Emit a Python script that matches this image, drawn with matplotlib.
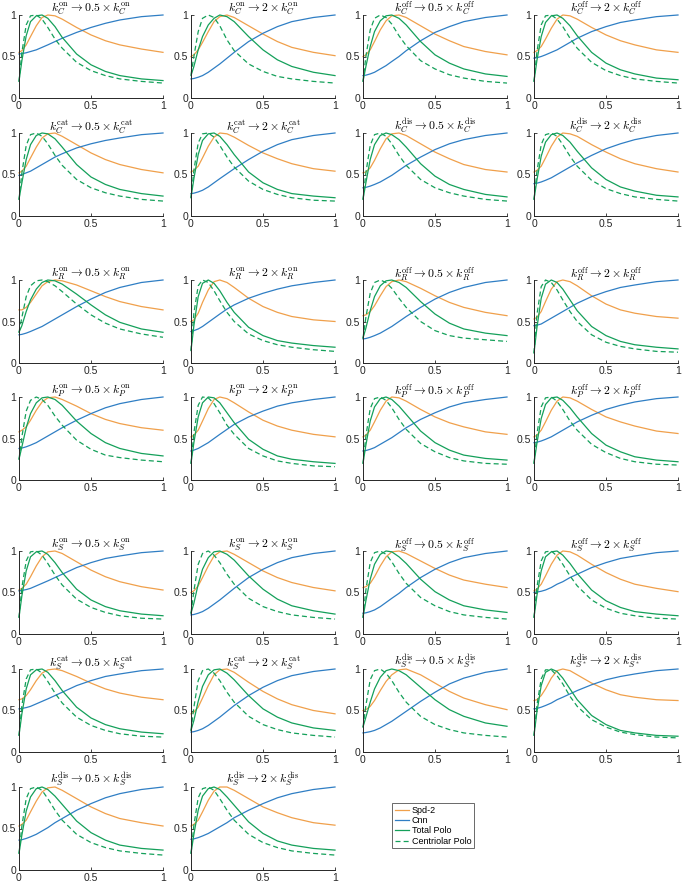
import numpy as np
import matplotlib
matplotlib.use("Agg")
import matplotlib.pyplot as plt

plt.rcParams['font.family'] = ['Liberation Sans', 'DejaVu Sans']
plt.rcParams['mathtext.fontset'] = 'cm'

# shared time axis (normalised)
x = [0, 0.02, 0.05, 0.08, 0.12, 0.16, 0.2, 0.25, 0.3, 0.4, 0.5, 0.6, 0.7, 0.85, 1.0]

titles = [
    r"$k_C^{\rm on} \rightarrow 0.5 \times k_C^{\rm on}$",
    r"$k_C^{\rm on} \rightarrow 2 \times k_C^{\rm on}$",
    r"$k_C^{\rm off} \rightarrow 0.5 \times k_C^{\rm off}$",
    r"$k_C^{\rm off} \rightarrow 2 \times k_C^{\rm off}$",
    r"$k_C^{\rm cat} \rightarrow 0.5 \times k_C^{\rm cat}$",
    r"$k_C^{\rm cat} \rightarrow 2 \times k_C^{\rm cat}$",
    r"$k_C^{\rm dis} \rightarrow 0.5 \times k_C^{\rm dis}$",
    r"$k_C^{\rm dis} \rightarrow 2 \times k_C^{\rm dis}$",
    r"$k_R^{\rm on} \rightarrow 0.5 \times k_R^{\rm on}$",
    r"$k_R^{\rm on} \rightarrow 2 \times k_R^{\rm on}$",
    r"$k_R^{\rm off} \rightarrow 0.5 \times k_R^{\rm off}$",
    r"$k_R^{\rm off} \rightarrow 2 \times k_R^{\rm off}$",
    r"$k_P^{\rm on} \rightarrow 0.5 \times k_P^{\rm on}$",
    r"$k_P^{\rm on} \rightarrow 2 \times k_P^{\rm on}$",
    r"$k_P^{\rm off} \rightarrow 0.5 \times k_P^{\rm off}$",
    r"$k_P^{\rm off} \rightarrow 2 \times k_P^{\rm off}$",
    r"$k_S^{\rm on} \rightarrow 0.5 \times k_S^{\rm on}$",
    r"$k_S^{\rm on} \rightarrow 2 \times k_S^{\rm on}$",
    r"$k_S^{\rm off} \rightarrow 0.5 \times k_S^{\rm off}$",
    r"$k_S^{\rm off} \rightarrow 2 \times k_S^{\rm off}$",
    r"$k_S^{\rm cat} \rightarrow 0.5 \times k_S^{\rm cat}$",
    r"$k_S^{\rm cat} \rightarrow 2 \times k_S^{\rm cat}$",
    r"$k_{S^*}^{\rm dis} \rightarrow 0.5 \times k_{S^*}^{\rm dis}$",
    r"$k_{S^*}^{\rm dis} \rightarrow 2 \times k_{S^*}^{\rm dis}$",
    r"$k_S^{\rm dis} \rightarrow 0.5 \times k_S^{\rm dis}$",
    r"$k_S^{\rm dis} \rightarrow 2 \times k_S^{\rm dis}$",
]

spd2 = [
    [0.55, 0.57, 0.64, 0.74, 0.87, 0.97, 1.0, 0.99, 0.95, 0.85, 0.76, 0.69, 0.64, 0.59, 0.55],
    [0.5, 0.52, 0.58, 0.67, 0.8, 0.92, 0.98, 1.0, 0.97, 0.87, 0.77, 0.68, 0.61, 0.55, 0.51],
    [0.5, 0.52, 0.58, 0.68, 0.82, 0.93, 0.99, 1.0, 0.97, 0.87, 0.77, 0.69, 0.62, 0.56, 0.52],
    [0.55, 0.57, 0.62, 0.71, 0.84, 0.95, 1.0, 0.99, 0.95, 0.85, 0.76, 0.69, 0.64, 0.58, 0.55],
    [0.52, 0.54, 0.6, 0.7, 0.83, 0.94, 0.99, 1.0, 0.96, 0.86, 0.76, 0.68, 0.62, 0.56, 0.52],
    [0.53, 0.55, 0.6, 0.7, 0.84, 0.95, 1.0, 0.99, 0.95, 0.85, 0.76, 0.69, 0.63, 0.57, 0.54],
    [0.52, 0.53, 0.58, 0.67, 0.81, 0.93, 0.99, 1.0, 0.97, 0.87, 0.77, 0.69, 0.62, 0.56, 0.53],
    [0.53, 0.55, 0.6, 0.7, 0.84, 0.95, 1.0, 0.99, 0.96, 0.86, 0.77, 0.69, 0.63, 0.57, 0.53],
    [0.64, 0.64, 0.67, 0.73, 0.83, 0.93, 0.98, 1.0, 0.99, 0.94, 0.87, 0.8, 0.74, 0.68, 0.64],
    [0.5, 0.52, 0.6, 0.73, 0.88, 0.98, 1.0, 0.97, 0.91, 0.78, 0.68, 0.61, 0.56, 0.52, 0.5],
    [0.57, 0.58, 0.62, 0.69, 0.81, 0.92, 0.98, 1.0, 0.98, 0.9, 0.81, 0.73, 0.67, 0.61, 0.57],
    [0.53, 0.55, 0.62, 0.74, 0.89, 0.98, 1.0, 0.98, 0.93, 0.81, 0.71, 0.64, 0.6, 0.56, 0.54],
    [0.58, 0.6, 0.64, 0.72, 0.84, 0.94, 0.99, 1.0, 0.97, 0.89, 0.8, 0.73, 0.68, 0.63, 0.6],
    [0.52, 0.54, 0.6, 0.71, 0.86, 0.97, 1.0, 0.98, 0.93, 0.82, 0.72, 0.65, 0.6, 0.55, 0.52],
    [0.52, 0.54, 0.6, 0.7, 0.84, 0.95, 1.0, 0.99, 0.95, 0.85, 0.76, 0.69, 0.64, 0.58, 0.55],
    [0.52, 0.54, 0.6, 0.7, 0.84, 0.95, 1.0, 0.99, 0.95, 0.85, 0.76, 0.7, 0.65, 0.59, 0.56],
    [0.53, 0.55, 0.6, 0.69, 0.82, 0.93, 0.99, 1.0, 0.97, 0.87, 0.77, 0.69, 0.63, 0.57, 0.53],
    [0.5, 0.52, 0.58, 0.68, 0.82, 0.94, 0.99, 1.0, 0.96, 0.86, 0.76, 0.68, 0.62, 0.56, 0.52],
    [0.56, 0.57, 0.61, 0.69, 0.82, 0.93, 0.99, 1.0, 0.97, 0.88, 0.79, 0.71, 0.65, 0.6, 0.56],
    [0.52, 0.54, 0.6, 0.7, 0.84, 0.95, 1.0, 0.99, 0.95, 0.84, 0.74, 0.66, 0.6, 0.55, 0.51],
    [0.63, 0.64, 0.68, 0.75, 0.86, 0.95, 0.99, 1.0, 0.98, 0.91, 0.83, 0.76, 0.71, 0.66, 0.63],
    [0.46, 0.48, 0.54, 0.65, 0.8, 0.93, 0.99, 1.0, 0.96, 0.84, 0.73, 0.64, 0.57, 0.5, 0.46],
    [0.5, 0.51, 0.55, 0.62, 0.74, 0.85, 0.93, 0.99, 1.0, 0.93, 0.83, 0.73, 0.65, 0.57, 0.51],
    [0.62, 0.63, 0.68, 0.76, 0.89, 0.98, 1.0, 0.98, 0.93, 0.83, 0.75, 0.69, 0.66, 0.63, 0.62],
    [0.53, 0.55, 0.6, 0.7, 0.83, 0.94, 0.99, 1.0, 0.96, 0.86, 0.76, 0.68, 0.62, 0.57, 0.53],
    [0.53, 0.55, 0.6, 0.7, 0.84, 0.95, 1.0, 1.0, 0.96, 0.86, 0.76, 0.69, 0.63, 0.57, 0.54],
]

cnn = [
    [0.53, 0.535, 0.545, 0.56, 0.58, 0.61, 0.64, 0.68, 0.72, 0.79, 0.85, 0.9, 0.94, 0.98, 1.0],
    [0.23, 0.235, 0.25, 0.27, 0.31, 0.36, 0.41, 0.48, 0.55, 0.68, 0.78, 0.86, 0.92, 0.97, 1.0],
    [0.27, 0.275, 0.29, 0.31, 0.35, 0.39, 0.44, 0.5, 0.57, 0.69, 0.79, 0.86, 0.92, 0.97, 1.0],
    [0.48, 0.485, 0.5, 0.52, 0.55, 0.58, 0.62, 0.67, 0.72, 0.8, 0.86, 0.91, 0.94, 0.98, 1.0],
    [0.49, 0.5, 0.52, 0.54, 0.58, 0.62, 0.66, 0.71, 0.75, 0.82, 0.87, 0.91, 0.94, 0.98, 1.0],
    [0.27, 0.275, 0.29, 0.31, 0.35, 0.4, 0.45, 0.51, 0.57, 0.68, 0.78, 0.86, 0.92, 0.97, 1.0],
    [0.34, 0.345, 0.36, 0.38, 0.41, 0.45, 0.49, 0.55, 0.61, 0.71, 0.8, 0.87, 0.92, 0.97, 1.0],
    [0.39, 0.395, 0.41, 0.43, 0.46, 0.5, 0.54, 0.59, 0.64, 0.73, 0.81, 0.87, 0.92, 0.97, 1.0],
    [0.34, 0.345, 0.36, 0.38, 0.41, 0.44, 0.48, 0.53, 0.58, 0.68, 0.77, 0.85, 0.91, 0.97, 1.0],
    [0.38, 0.39, 0.41, 0.44, 0.49, 0.54, 0.59, 0.65, 0.7, 0.78, 0.84, 0.89, 0.93, 0.97, 1.0],
    [0.29, 0.295, 0.31, 0.33, 0.36, 0.4, 0.44, 0.5, 0.56, 0.67, 0.77, 0.85, 0.91, 0.97, 1.0],
    [0.45, 0.455, 0.47, 0.5, 0.54, 0.58, 0.62, 0.67, 0.72, 0.8, 0.86, 0.91, 0.94, 0.98, 1.0],
    [0.38, 0.385, 0.4, 0.42, 0.45, 0.49, 0.53, 0.58, 0.63, 0.72, 0.8, 0.87, 0.92, 0.97, 1.0],
    [0.35, 0.36, 0.38, 0.41, 0.45, 0.5, 0.55, 0.61, 0.67, 0.76, 0.83, 0.89, 0.93, 0.97, 1.0],
    [0.35, 0.355, 0.37, 0.39, 0.43, 0.47, 0.51, 0.57, 0.63, 0.73, 0.81, 0.88, 0.93, 0.97, 1.0],
    [0.45, 0.455, 0.47, 0.49, 0.52, 0.56, 0.6, 0.65, 0.7, 0.78, 0.85, 0.9, 0.94, 0.98, 1.0],
    [0.52, 0.525, 0.535, 0.55, 0.58, 0.61, 0.64, 0.68, 0.72, 0.8, 0.86, 0.91, 0.94, 0.98, 1.0],
    [0.23, 0.235, 0.25, 0.27, 0.31, 0.36, 0.41, 0.48, 0.55, 0.68, 0.78, 0.86, 0.92, 0.97, 1.0],
    [0.25, 0.255, 0.27, 0.29, 0.33, 0.38, 0.43, 0.49, 0.56, 0.68, 0.78, 0.86, 0.92, 0.97, 1.0],
    [0.5, 0.505, 0.515, 0.53, 0.56, 0.6, 0.63, 0.68, 0.72, 0.8, 0.86, 0.91, 0.94, 0.98, 1.0],
    [0.52, 0.525, 0.535, 0.55, 0.58, 0.61, 0.64, 0.68, 0.72, 0.8, 0.86, 0.91, 0.94, 0.98, 1.0],
    [0.24, 0.245, 0.26, 0.28, 0.32, 0.37, 0.42, 0.49, 0.56, 0.68, 0.78, 0.86, 0.92, 0.97, 1.0],
    [0.23, 0.235, 0.245, 0.26, 0.29, 0.33, 0.37, 0.43, 0.49, 0.61, 0.72, 0.82, 0.89, 0.96, 1.0],
    [0.52, 0.525, 0.54, 0.56, 0.59, 0.63, 0.66, 0.7, 0.74, 0.81, 0.87, 0.91, 0.94, 0.98, 1.0],
    [0.36, 0.365, 0.38, 0.4, 0.43, 0.47, 0.51, 0.57, 0.62, 0.72, 0.8, 0.87, 0.92, 0.97, 1.0],
    [0.37, 0.375, 0.39, 0.41, 0.44, 0.48, 0.52, 0.57, 0.63, 0.72, 0.8, 0.87, 0.92, 0.97, 1.0],
]

polo_total = [
    [0.2, 0.45, 0.75, 0.92, 0.99, 1.0, 0.96, 0.86, 0.73, 0.53, 0.4, 0.32, 0.27, 0.23, 0.21],
    [0.27, 0.38, 0.58, 0.74, 0.88, 0.96, 1.0, 0.98, 0.92, 0.74, 0.58, 0.46, 0.38, 0.31, 0.27],
    [0.2, 0.38, 0.62, 0.8, 0.93, 0.99, 1.0, 0.96, 0.88, 0.68, 0.52, 0.42, 0.35, 0.29, 0.26],
    [0.2, 0.45, 0.74, 0.91, 0.99, 1.0, 0.96, 0.87, 0.75, 0.55, 0.42, 0.34, 0.29, 0.24, 0.22],
    [0.2, 0.4, 0.68, 0.86, 0.97, 1.0, 0.99, 0.93, 0.83, 0.62, 0.47, 0.38, 0.32, 0.27, 0.24],
    [0.22, 0.45, 0.74, 0.91, 0.99, 1.0, 0.96, 0.86, 0.74, 0.53, 0.4, 0.32, 0.27, 0.24, 0.22],
    [0.2, 0.4, 0.68, 0.86, 0.97, 1.0, 0.98, 0.92, 0.83, 0.63, 0.48, 0.38, 0.32, 0.26, 0.23],
    [0.2, 0.43, 0.72, 0.89, 0.98, 1.0, 0.97, 0.89, 0.78, 0.58, 0.44, 0.35, 0.3, 0.25, 0.23],
    [0.37, 0.45, 0.62, 0.76, 0.89, 0.97, 1.0, 0.99, 0.95, 0.83, 0.7, 0.58, 0.49, 0.41, 0.37],
    [0.15, 0.45, 0.8, 0.96, 1.0, 0.96, 0.87, 0.73, 0.61, 0.43, 0.33, 0.27, 0.24, 0.21, 0.19],
    [0.3, 0.42, 0.63, 0.8, 0.93, 0.99, 1.0, 0.97, 0.91, 0.74, 0.59, 0.48, 0.41, 0.36, 0.33],
    [0.12, 0.42, 0.78, 0.95, 1.0, 0.97, 0.89, 0.76, 0.63, 0.44, 0.33, 0.26, 0.22, 0.19, 0.17],
    [0.25, 0.4, 0.63, 0.8, 0.93, 0.99, 1.0, 0.97, 0.9, 0.71, 0.56, 0.45, 0.38, 0.32, 0.29],
    [0.2, 0.45, 0.76, 0.93, 1.0, 0.99, 0.93, 0.81, 0.69, 0.49, 0.37, 0.29, 0.25, 0.22, 0.2],
    [0.2, 0.42, 0.71, 0.88, 0.98, 1.0, 0.97, 0.89, 0.79, 0.59, 0.45, 0.36, 0.3, 0.26, 0.24],
    [0.2, 0.44, 0.74, 0.91, 0.99, 1.0, 0.96, 0.87, 0.76, 0.56, 0.42, 0.34, 0.28, 0.24, 0.22],
    [0.2, 0.46, 0.76, 0.93, 0.99, 1.0, 0.96, 0.86, 0.74, 0.54, 0.41, 0.33, 0.28, 0.24, 0.22],
    [0.25, 0.37, 0.6, 0.78, 0.92, 0.99, 1.0, 0.96, 0.89, 0.7, 0.54, 0.42, 0.34, 0.28, 0.24],
    [0.2, 0.4, 0.66, 0.84, 0.96, 1.0, 0.99, 0.93, 0.85, 0.66, 0.51, 0.41, 0.34, 0.29, 0.26],
    [0.2, 0.46, 0.76, 0.93, 0.99, 1.0, 0.95, 0.85, 0.73, 0.53, 0.4, 0.32, 0.27, 0.24, 0.22],
    [0.2, 0.46, 0.76, 0.93, 0.99, 1.0, 0.96, 0.86, 0.74, 0.54, 0.41, 0.33, 0.28, 0.24, 0.22],
    [0.26, 0.38, 0.61, 0.79, 0.93, 0.99, 1.0, 0.95, 0.87, 0.68, 0.52, 0.42, 0.35, 0.29, 0.26],
    [0.3, 0.42, 0.6, 0.76, 0.9, 0.98, 1.0, 0.98, 0.93, 0.78, 0.63, 0.51, 0.43, 0.35, 0.31],
    [0.2, 0.48, 0.8, 0.96, 1.0, 0.97, 0.89, 0.76, 0.63, 0.44, 0.33, 0.26, 0.23, 0.2, 0.19],
    [0.2, 0.42, 0.71, 0.88, 0.98, 1.0, 0.97, 0.89, 0.79, 0.59, 0.45, 0.36, 0.3, 0.26, 0.24],
    [0.2, 0.43, 0.72, 0.89, 0.98, 1.0, 0.97, 0.88, 0.78, 0.58, 0.44, 0.35, 0.3, 0.26, 0.24],
]

polo_centriolar = [
    [0.2, 0.55, 0.88, 0.99, 1.0, 0.95, 0.85, 0.71, 0.6, 0.43, 0.33, 0.27, 0.23, 0.2, 0.18],
    [0.28, 0.5, 0.8, 0.96, 1.0, 0.97, 0.87, 0.7, 0.57, 0.41, 0.32, 0.26, 0.23, 0.2, 0.18],
    [0.2, 0.5, 0.82, 0.96, 1.0, 0.97, 0.89, 0.75, 0.63, 0.45, 0.35, 0.28, 0.24, 0.2, 0.18],
    [0.2, 0.55, 0.88, 0.99, 1.0, 0.95, 0.86, 0.72, 0.6, 0.43, 0.33, 0.27, 0.23, 0.2, 0.18],
    [0.2, 0.52, 0.85, 0.98, 1.0, 0.96, 0.87, 0.73, 0.61, 0.44, 0.34, 0.28, 0.24, 0.2, 0.18],
    [0.22, 0.55, 0.88, 0.99, 1.0, 0.95, 0.85, 0.71, 0.59, 0.42, 0.32, 0.26, 0.22, 0.19, 0.18],
    [0.2, 0.52, 0.85, 0.98, 1.0, 0.96, 0.87, 0.73, 0.61, 0.44, 0.34, 0.28, 0.24, 0.2, 0.18],
    [0.2, 0.53, 0.86, 0.98, 1.0, 0.96, 0.86, 0.72, 0.6, 0.43, 0.33, 0.27, 0.23, 0.2, 0.18],
    [0.37, 0.55, 0.8, 0.93, 0.99, 1.0, 0.98, 0.93, 0.86, 0.71, 0.58, 0.48, 0.41, 0.35, 0.31],
    [0.15, 0.6, 0.93, 1.0, 0.97, 0.87, 0.75, 0.61, 0.5, 0.35, 0.27, 0.22, 0.19, 0.16, 0.14],
    [0.3, 0.55, 0.84, 0.97, 1.0, 0.97, 0.9, 0.78, 0.67, 0.5, 0.39, 0.33, 0.3, 0.28, 0.26],
    [0.12, 0.58, 0.92, 1.0, 0.97, 0.88, 0.76, 0.62, 0.5, 0.34, 0.25, 0.2, 0.17, 0.14, 0.13],
    [0.25, 0.52, 0.83, 0.96, 1.0, 0.97, 0.9, 0.77, 0.66, 0.48, 0.37, 0.3, 0.27, 0.24, 0.22],
    [0.2, 0.57, 0.9, 1.0, 0.99, 0.92, 0.81, 0.66, 0.55, 0.38, 0.29, 0.23, 0.2, 0.17, 0.16],
    [0.2, 0.53, 0.86, 0.98, 1.0, 0.96, 0.87, 0.73, 0.61, 0.44, 0.34, 0.27, 0.23, 0.2, 0.19],
    [0.2, 0.55, 0.88, 0.99, 1.0, 0.95, 0.85, 0.71, 0.6, 0.43, 0.33, 0.26, 0.22, 0.19, 0.18],
    [0.2, 0.56, 0.88, 0.99, 1.0, 0.95, 0.85, 0.71, 0.59, 0.42, 0.32, 0.26, 0.22, 0.19, 0.18],
    [0.25, 0.52, 0.84, 0.97, 1.0, 0.95, 0.86, 0.72, 0.6, 0.43, 0.33, 0.27, 0.23, 0.2, 0.18],
    [0.2, 0.53, 0.86, 0.98, 1.0, 0.96, 0.87, 0.73, 0.61, 0.44, 0.34, 0.27, 0.23, 0.2, 0.18],
    [0.2, 0.56, 0.88, 0.99, 1.0, 0.94, 0.84, 0.7, 0.58, 0.41, 0.31, 0.25, 0.22, 0.19, 0.18],
    [0.2, 0.56, 0.88, 0.99, 1.0, 0.95, 0.85, 0.71, 0.59, 0.42, 0.32, 0.26, 0.22, 0.19, 0.18],
    [0.26, 0.54, 0.86, 0.98, 1.0, 0.95, 0.86, 0.72, 0.6, 0.43, 0.33, 0.27, 0.23, 0.2, 0.18],
    [0.3, 0.56, 0.87, 0.98, 1.0, 0.95, 0.86, 0.72, 0.6, 0.43, 0.33, 0.27, 0.23, 0.2, 0.18],
    [0.2, 0.56, 0.88, 0.99, 0.99, 0.92, 0.82, 0.67, 0.55, 0.39, 0.3, 0.24, 0.21, 0.18, 0.17],
    [0.2, 0.53, 0.86, 0.98, 1.0, 0.96, 0.86, 0.72, 0.6, 0.43, 0.33, 0.27, 0.23, 0.2, 0.18],
    [0.2, 0.54, 0.87, 0.98, 1.0, 0.96, 0.86, 0.72, 0.6, 0.43, 0.33, 0.27, 0.23, 0.2, 0.18],
]

series_labels = ['Spd-2', 'Cnn', 'Total Polo', 'Centriolar Polo']

C_SPD = '#F0A04B'
C_CNN = '#2F7EC4'
C_POLO = '#14A05A'
AX_COL = '#262626'

W, H = 682, 886
fig = plt.figure(figsize=(W / 100, H / 100), dpi=100)

# panel grid in pixels (left edges / top edges), MATLAB subplot-ish spacing
col_left = [19, 191, 363, 534]
row_top = [15, 133, 280, 397, 551, 669, 787]
ax_w, ax_h = 144, 83

handles = None
for i in range(len(titles)):
    r, c = divmod(i, 4)
    ax = fig.add_axes([col_left[c] / W, 1 - (row_top[r] + ax_h) / H, ax_w / W, ax_h / H])
    l1, = ax.plot(x, spd2[i], color=C_SPD, lw=0.9, clip_on=False)
    l2, = ax.plot(x, cnn[i], color=C_CNN, lw=0.9, clip_on=False)
    l3, = ax.plot(x, polo_total[i], color=C_POLO, lw=0.9, clip_on=False)
    l4, = ax.plot(x, polo_centriolar[i], color=C_POLO, lw=0.9, ls=(0, (4, 2.5)), clip_on=False)
    handles = [l1, l2, l3, l4]
    ax.set_xlim(0, 1)
    ax.set_ylim(0, 1)
    ax.set_xticks([0, 0.5, 1], ['0', '0.5', '1'])
    ax.set_yticks([0, 0.5, 1], ['0', '0.5', '1'])
    ax.tick_params(direction='in', length=2.5, width=0.6, labelsize=7.5,
                   colors=AX_COL, pad=2)
    for s in ['top', 'right']:
        ax.spines[s].set_visible(False)
    for s in ['left', 'bottom']:
        ax.spines[s].set_color(AX_COL)
        ax.spines[s].set_linewidth(0.7)
    # explicit y stops matplotlib from auto-lifting the title
    ax.set_title(titles[i], fontsize=8.5, y=1.0, pad=2)

leg = fig.legend(handles, series_labels, loc='upper left',
                 bbox_to_anchor=(392 / W, 1 - 803 / H), borderaxespad=0,
                 fontsize=6.5, handlelength=1.6, handletextpad=0.3,
                 labelspacing=0.15, borderpad=0.3, frameon=True, fancybox=False)
leg.get_frame().set_edgecolor(AX_COL)
leg.get_frame().set_linewidth(0.6)

fig.savefig('out.png', dpi=100)
